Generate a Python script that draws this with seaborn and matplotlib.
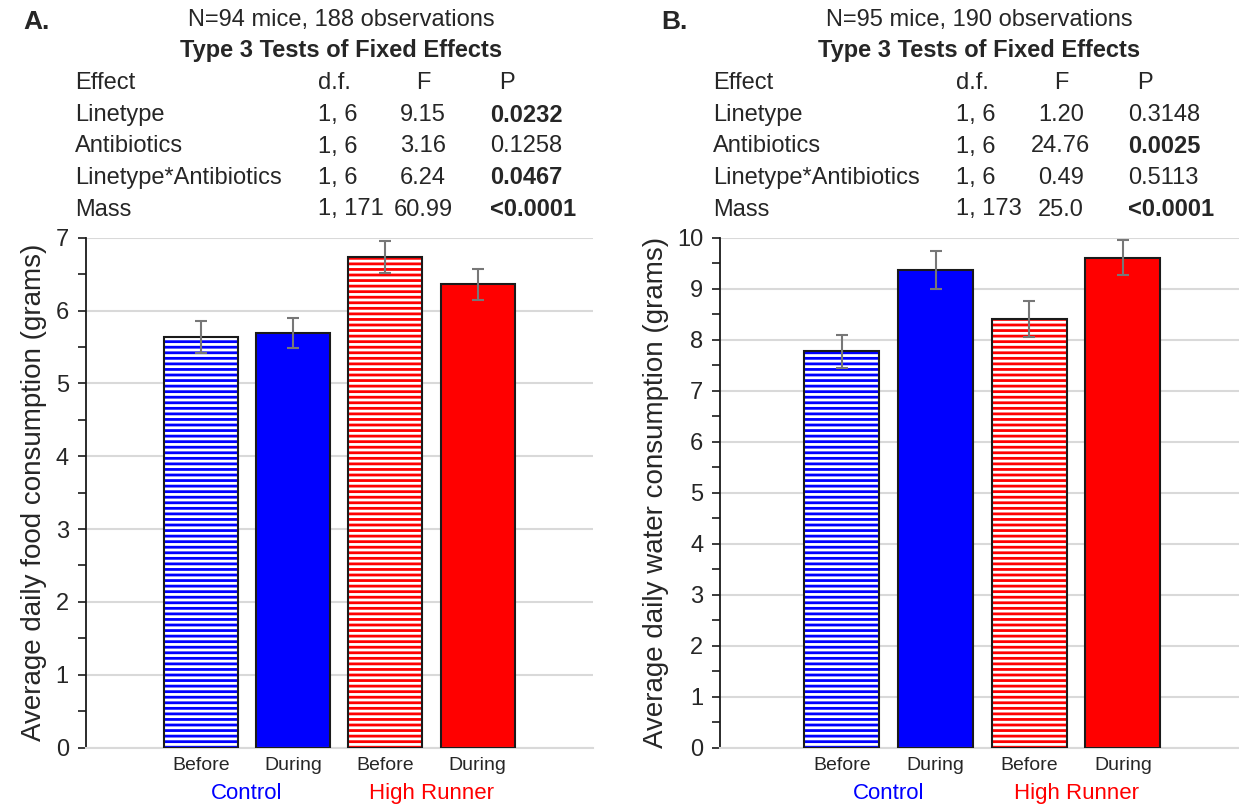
import pandas as pd
import seaborn as sns
import matplotlib.pyplot as plt
from matplotlib.patches import Rectangle
from matplotlib.ticker import MultipleLocator

# bar data
bar_names = ["Control Before", "Control During", "HR Before", "HR During"]
periods = ["Before", "During", "Before", "During"]
group_names = ["Control", "High Runner"]
group_colors = ["#0000ff", "#ff0000"]
bar_colors = ["#0000ff", "#0000ff", "#ff0000", "#ff0000"]
hatched = [True, False, True, False]

food_mean = [5.63, 5.69, 6.74, 6.36]
food_se = [0.22, 0.21, 0.22, 0.21]
water_mean = [7.77, 9.37, 8.41, 9.61]
water_se = [0.33, 0.37, 0.35, 0.34]

# stats tables
effects = ["Linetype", "Antibiotics", "Linetype*Antibiotics", "Mass"]
food_dfs = ["1, 6", "1, 6", "1, 6", "1, 171"]
food_F = ["9.15", "3.16", "6.24", "60.99"]
food_P = ["0.0232", "0.1258", "0.0467", "<0.0001"]
food_bold = [True, False, True, True]
water_dfs = ["1, 6", "1, 6", "1, 6", "1, 173"]
water_F = ["1.20", "24.76", "0.49", "25.0"]
water_P = ["0.3148", "0.0025", "0.5113", "<0.0001"]
water_bold = [False, True, False, True]

sns.set_style("white")
plt.rcParams['font.family'] = ['Liberation Sans', 'DejaVu Sans']
plt.rcParams['hatch.linewidth'] = 2.0

W, H = 1239, 809
fig = plt.figure(figsize=(W / 100, H / 100), dpi=100)


def px(x, y):
    return x / W, 1 - y / H


def panel(ax, mean, se, ymax, ylabel, xlim):
    df = pd.DataFrame({"bar": bar_names, "value": mean})
    sns.barplot(data=df, x="bar", y="value", hue="bar", palette=bar_colors,
                legend=False, width=0.8, ax=ax, saturation=1)
    for p, c, h in zip(ax.patches, bar_colors, hatched):
        if h:
            p.set_facecolor("white")
            p.set_edgecolor(c)
            p.set_hatch("---")
        p.set_linewidth(0)
        ax.add_patch(Rectangle(p.get_xy(), p.get_width(), p.get_height(),
                               fill=False, ec="#1a1a1a", lw=1.5, zorder=3))
    ax.errorbar(range(len(mean)), mean, yerr=se, fmt="none", ecolor="#777777",
                elinewidth=1.5, capsize=4, capthick=1.5, zorder=4)
    ax.set_xlim(*xlim)
    ax.set_ylim(0, ymax)
    ax.yaxis.set_major_locator(MultipleLocator(1))
    ax.yaxis.set_minor_locator(MultipleLocator(0.5))
    ax.set_axisbelow(True)
    ax.grid(axis="y", which="major", color="#d9d9d9", lw=1.5)
    ax.tick_params(axis="y", which="both", left=True, direction="out",
                   length=6, width=1.2, color="#1a1a1a", labelsize=17, pad=6)
    ax.tick_params(axis="x", length=0, labelsize=14, pad=7)
    ax.set_xticks(range(len(periods)))
    ax.set_xticklabels(periods)
    ax.set_xlabel("")
    ax.set_ylabel(ylabel, fontsize=20, labelpad=6)
    for s in ["top", "right"]:
        ax.spines[s].set_visible(False)
    ax.spines["left"].set_color("#1a1a1a")
    ax.spines["left"].set_linewidth(1.3)
    ax.spines["bottom"].set_color("#d9d9d9")
    ax.spines["bottom"].set_linewidth(1.5)
    for i, (g, c) in enumerate(zip(group_names, group_colors)):
        ax.text(2 * i + 0.5, -0.09, g, color=c, fontsize=16, ha="center",
                va="center", transform=ax.get_xaxis_transform())


def table(x0, letter, header, dfs, F, P, bold):
    fs = 17
    fig.text(*px(x0 - 52, 22), letter, fontsize=19, fontweight="bold", va="center")
    fig.text(*px(x0 + 266, 20), header, fontsize=fs, ha="center", va="center")
    fig.text(*px(x0 + 266, 50), "Type 3 Tests of Fixed Effects", fontsize=fs,
             fontweight="bold", ha="center", va="center")
    y = 83
    fig.text(*px(x0, y), "Effect", fontsize=fs, va="center")
    fig.text(*px(x0 + 243, y), "d.f.", fontsize=fs, va="center")
    fig.text(*px(x0 + 348, y), "F", fontsize=fs, va="center", ha="center")
    fig.text(*px(x0 + 432, y), "P", fontsize=fs, va="center", ha="center")
    for i in range(len(effects)):
        y = 115 + 31.5 * i
        fig.text(*px(x0, y), effects[i], fontsize=fs, va="center")
        fig.text(*px(x0 + 243, y), dfs[i], fontsize=fs, va="center")
        fig.text(*px(x0 + 348, y), F[i], fontsize=fs, va="center", ha="center")
        fig.text(*px(x0 + 415, y), P[i], fontsize=fs, va="center",
                 fontweight="bold" if bold[i] else "normal")


ax1 = fig.add_axes([85.5 / W, 61.5 / H, 507.5 / W, 509.8 / H])
panel(ax1, food_mean, food_se, 7, "Average daily food consumption (grams)", (-1.25, 4.25))
ax2 = fig.add_axes([720 / W, 61.5 / H, 524.7 / W, 509.8 / H])
panel(ax2, water_mean, water_se, 10, "Average daily water consumption (grams)", (-1.3, 4.3))

table(75, "A.", "N=94 mice, 188 observations", food_dfs, food_F, food_P, food_bold)
table(713, "B.", "N=95 mice, 190 observations", water_dfs, water_F, water_P, water_bold)

plt.savefig("out.png", dpi=100)
